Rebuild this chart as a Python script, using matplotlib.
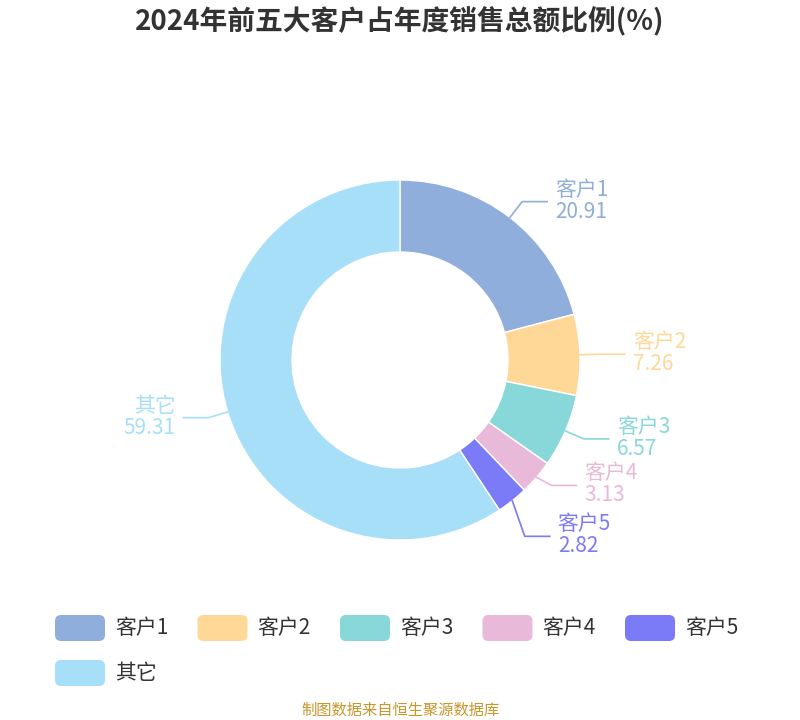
import numpy as np
import matplotlib.pyplot as plt
from matplotlib.patches import FancyBboxPatch

plt.rcParams['font.family'] = ['Noto Sans CJK SC', 'DejaVu Sans']

labels = ['客户1', '客户2', '客户3', '客户4', '客户5', '其它']
values = [20.91, 7.26, 6.57, 3.13, 2.82, 59.31]
colors = ['#8FAEDB', '#FFD898', '#88D7D9', '#E8B9D9', '#7B7BF7', '#A8DFF8']
# extra vertical shift for crowded labels (px)
label_shift = [0, 0, 0, -5, 20, 0]

fig = plt.figure(figsize=(8, 7.2), dpi=100)
ax = fig.add_axes([0, 0, 1, 1])
ax.set_xlim(0, 800)
ax.set_ylim(0, 720)
ax.axis('off')

cx, cy, R = 400, 360, 180
ax.pie(values, colors=colors, startangle=90, counterclock=False, center=(cx, cy),
       radius=R, wedgeprops=dict(width=R * 0.4, edgecolor='white', linewidth=1))
ax.set_xlim(0, 800)
ax.set_ylim(0, 720)
ax.set_aspect('equal')

cum = 0
for lab, v, c, sh in zip(labels, values, colors, label_shift):
    mid = (cum + v / 2) / 100 * 2 * np.pi
    cum += v
    sx, sy = cx + R * np.sin(mid), cy + R * np.cos(mid)
    ex, ey = cx + (R + 20) * np.sin(mid), cy + (R + 20) * np.cos(mid) - sh
    side = 1 if np.sin(mid) >= 0 else -1
    hx = ex + side * 25
    ax.plot([sx, ex, hx], [sy, ey, ey], color=c, lw=1.2)
    ha = 'left' if side > 0 else 'right'
    tx = hx + side * 8
    ax.text(tx, ey + 1, lab, color=c, fontsize=15, ha=ha, va='bottom')
    ax.text(tx, ey + 1, f'{v:.2f}', color=c, fontsize=15, ha=ha, va='top')

# legend
for i, (lab, c) in enumerate(zip(labels, colors)):
    row, col = divmod(i, 5)
    x0 = 55 + col * 142.5
    y0 = 720 - (628 + row * 45)
    ax.add_patch(FancyBboxPatch((x0, y0 - 13), 50, 26, boxstyle='round,pad=0,rounding_size=6',
                                facecolor=c, edgecolor='none'))
    ax.text(x0 + 60, y0, lab, fontsize=15, va='center', ha='left', color='#333333')

fig.text(0.5, 1 - 22 / 720, '2024年前五大客户占年度销售总额比例(%)', fontsize=20,
         fontweight='bold', ha='center', va='center', color='#333333')
fig.text(0.5, 1 - 710 / 720, '制图数据来自恒生聚源数据库', fontsize=11,
         ha='center', va='center', color='#C8962A')

fig.savefig('out.png')
